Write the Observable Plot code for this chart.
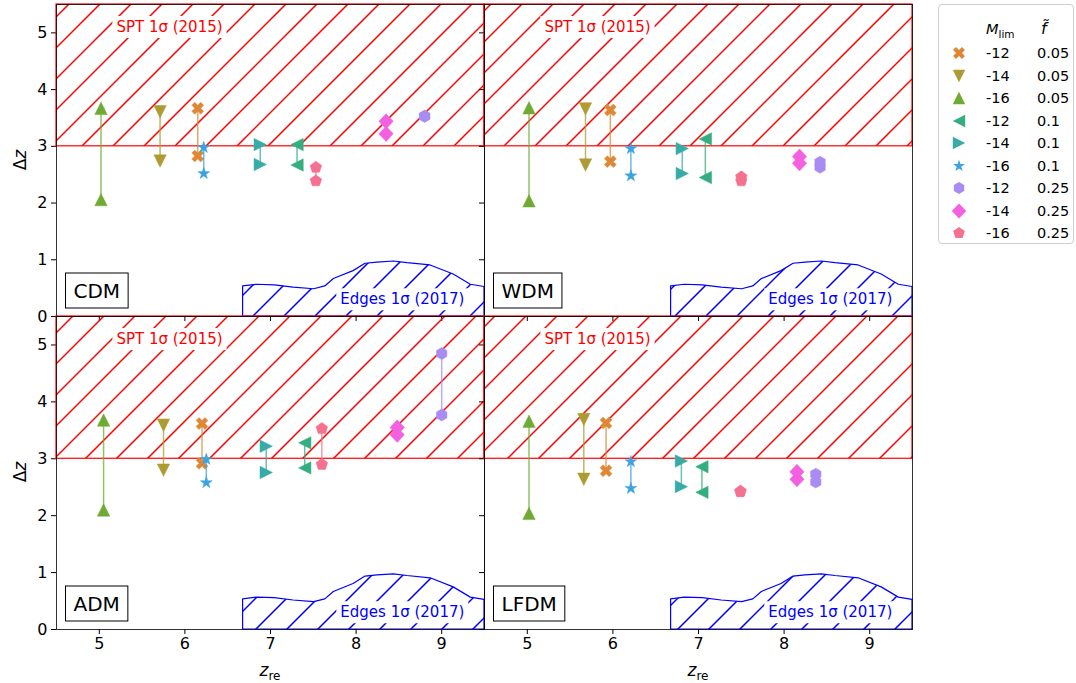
<!DOCTYPE html>
<html><head><meta charset="utf-8">
<script src="https://cdn.jsdelivr.net/npm/d3@7"></script>
<script src="https://cdn.jsdelivr.net/npm/@observablehq/plot@0.6"></script>
<style>
body{margin:0;background:#fff;font-family:"DejaVu Sans",sans-serif;}
#wrap{position:relative;width:1076px;height:683px;overflow:hidden;background:#fff;}
.lab{position:absolute;font-size:17px;color:#000;white-space:nowrap;line-height:1;}
.leg{position:absolute;left:938px;top:4px;width:134px;height:238px;border:1px solid #cfcfcf;border-radius:4px;background:#fff;font-size:14.5px;}
.leg div{position:absolute;white-space:nowrap;line-height:1;transform:translateY(-50%);}
.leg svg{position:absolute;}
</style></head><body>
<div id="wrap"></div>
<script>
// ---------- data ----------
const xDomain = [4.5, 9.5];
const yDomain = [0, 5.5];
const xTicks = [5, 6, 7, 8, 9];
const yTicks = [0, 1, 2, 3, 4, 5];
const models = ["CDM", "WDM", "ADM", "LFDM"];
const mLim = ["-12", "-14", "-16", "-12", "-14", "-16", "-12", "-14", "-16"];
const fTilde = ["0.05", "0.05", "0.05", "0.1", "0.1", "0.1", "0.25", "0.25", "0.25"];
const colors = ["#de8836", "#ad9c33", "#6fab33", "#34ae80", "#37aca6", "#3aa3e0", "#a88cf2", "#f360e0", "#f5718f"];
const markers = ["X", "v", "^", "<", ">", "*", "h", "D", "p"];

const zreCDM = [6.15, 5.71, 5.02, 7.31, 6.88, 6.22, 8.80, 8.35, 7.53];
const dzHiCDM = [3.67, 3.61, 3.67, 3.03, 3.03, 2.98, 3.53, 3.44, 2.63];
const dzLoCDM = [2.83, 2.74, 2.06, 2.67, 2.68, 2.52, 3.53, 3.22, 2.39];
const zreWDM = [5.97, 5.68, 5.02, 7.08, 6.81, 6.21, 8.42, 8.18, 7.50];
const dzHiWDM = [3.64, 3.66, 3.68, 3.13, 2.96, 2.96, 2.72, 2.82, 2.46];
const dzLoWDM = [2.73, 2.67, 2.04, 2.45, 2.52, 2.48, 2.63, 2.70, 2.39];
const zreADM = [6.20, 5.75, 5.05, 7.40, 6.95, 6.25, 9.00, 8.48, 7.60];
const dzHiADM = [3.62, 3.59, 3.68, 3.28, 3.22, 2.99, 4.85, 3.55, 3.53];
const dzLoADM = [2.92, 2.80, 2.10, 2.84, 2.76, 2.58, 3.77, 3.42, 2.90];
const zreLFDM = [5.92, 5.66, 5.02, 7.04, 6.80, 6.21, 8.37, 8.15, 7.49];
const dzHiLFDM = [3.63, 3.69, 3.66, 2.86, 2.96, 2.95, 2.73, 2.77, 2.43];
const dzLoLFDM = [2.79, 2.64, 2.04, 2.41, 2.51, 2.48, 2.59, 2.64, 2.42];

const sptDz = 3;
const edgesZ = [6.68, 6.84, 7.05, 7.27, 7.51, 7.64, 7.74, 7.97, 8.11, 8.25, 8.44, 8.60, 8.87, 9.14, 9.34, 9.50];
const edgesDz = [0.53, 0.56, 0.55, 0.51, 0.48, 0.53, 0.66, 0.80, 0.93, 0.95, 0.97, 0.94, 0.90, 0.74, 0.56, 0.52];

const annoText = ["SPT 1σ (2015)", "Edges 1σ (2017)"];
const annoZ = [5.82, 8.54];
const annoDz = [5.1, 0.3];
const annoColor = ["red", "blue"];

// ---------- symbols ----------
function poly(pts) {
  return {draw(ctx) {
    ctx.moveTo(pts[0][0], pts[0][1]);
    for (let i = 1; i < pts.length; i++) ctx.lineTo(pts[i][0], pts[i][1]);
    ctx.closePath();
  }};
}
function regular(n, R) {
  const p = [];
  for (let i = 0; i < n; i++) { const a = 2 * Math.PI * i / n; p.push([R * Math.sin(a), -R * Math.cos(a)]); }
  return p;
}
function star(R, r) {
  const p = [];
  for (let i = 0; i < 10; i++) { const a = Math.PI * i / 5, rr = i % 2 ? r : R; p.push([rr * Math.sin(a), -rr * Math.cos(a)]); }
  return p;
}
function xshape(a, t) {
  const base = [[-t,-a],[t,-a],[t,-t],[a,-t],[a,t],[t,t],[t,a],[-t,a],[-t,t],[-a,t],[-a,-t],[-t,-t]];
  const c = Math.SQRT1_2;
  return base.map(([x, y]) => [c * (x - y), c * (x + y)]);
}
const s = 6.2;
const symbolFor = {
  "X": poly(xshape(6.3, 2.1)),
  "v": poly([[0, s], [-s, -s], [s, -s]]),
  "^": poly([[0, -s], [-s, s], [s, s]]),
  "<": poly([[-s, 0], [s, -s], [s, s]]),
  ">": poly([[s, 0], [-s, -s], [-s, s]]),
  "*": poly(star(6.2, 2.4)),
  "h": poly(regular(6, 6.0)),
  "D": poly([[0, -7.6], [7.2, 0], [0, 7.6], [-7.2, 0]]),
  "p": poly(regular(5, 6.1))
};

// ---------- panels ----------
const sets = {
  CDM: [zreCDM, dzHiCDM, dzLoCDM],
  WDM: [zreWDM, dzHiWDM, dzLoWDM],
  ADM: [zreADM, dzHiADM, dzLoADM],
  LFDM: [zreLFDM, dzHiLFDM, dzLoLFDM]
};
const wrap = document.getElementById("wrap");
const NS = "http://www.w3.org/2000/svg";

const edges = edgesZ.map((z, i) => ({z, dz: edgesDz[i]}));
const spt = [{x1: xDomain[0], x2: xDomain[1], y1: sptDz, y2: yDomain[1]}];
const annos = annoText.map((t, i) => ({t, z: annoZ[i], dz: annoDz[i], c: annoColor[i]}));

// region outlines in pixel space, through the plot's own scales
const sptRegion = (sc) => {
  const r = spt[0];
  const x1 = sc.x(r.x1), x2 = sc.x(r.x2), y1 = sc.y(r.y1), y2 = sc.y(r.y2);
  return `M${x1},${y1}L${x2},${y1}L${x2},${y2}L${x1},${y2}Z`;
};
const edgesRegion = (sc) => {
  let d = `M${sc.x(edges[0].z)},${sc.y(0)}`;
  edges.forEach(e => { d += `L${sc.x(e.z)},${sc.y(e.dz)}`; });
  d += `L${sc.x(edges[edges.length - 1].z)},${sc.y(0)}Z`;
  return d;
};

// "/" hatch clipped to a region
function hatch(id, regionFn, color) {
  return (index, scales, values, dims) => {
    const g = document.createElementNS(NS, "g");
    const cp = document.createElementNS(NS, "clipPath");
    cp.setAttribute("id", id);
    const rp = document.createElementNS(NS, "path");
    rp.setAttribute("d", regionFn(scales));
    cp.appendChild(rp);
    g.appendChild(cp);
    const inner = document.createElementNS(NS, "g");
    inner.setAttribute("clip-path", `url(#${id})`);
    const {width, height} = dims;
    for (let x0 = -height - 20; x0 < width + 20; x0 += 31) {
      const ln = document.createElementNS(NS, "line");
      ln.setAttribute("x1", x0); ln.setAttribute("y1", height);
      ln.setAttribute("x2", x0 + height); ln.setAttribute("y2", 0);
      ln.setAttribute("stroke", color);
      ln.setAttribute("stroke-width", "1.5");
      inner.appendChild(ln);
    }
    g.appendChild(inner);
    return g;
  };
}

function boxText(svg, str, px, py, stroke) {
  svg.querySelectorAll("text").forEach(t => {
    if (t.textContent !== str) return;
    const b = t.getBBox();
    const r = document.createElementNS(NS, "rect");
    r.setAttribute("x", b.x - px);
    r.setAttribute("y", b.y - py);
    r.setAttribute("width", b.width + 2 * px);
    r.setAttribute("height", b.height + 2 * py);
    r.setAttribute("fill", "white");
    r.setAttribute("stroke", stroke);
    r.setAttribute("stroke-width", "1");
    const tr = t.getAttribute("transform");
    if (tr) r.setAttribute("transform", tr);
    t.parentNode.insertBefore(r, t);
  });
}

models.forEach((m, k) => {
  const col = k % 2, row = Math.floor(k / 2);
  const isLeft = col === 0, isBottom = row === 1;
  const [zre, hi, lo] = sets[m];
  const seriesMarks = [];
  for (let i = 0; i < zre.length; i++) {
    const seg = [{z: zre[i], hi: hi[i], lo: lo[i]}];
    const pts = [{z: zre[i], dz: hi[i]}, {z: zre[i], dz: lo[i]}];
    seriesMarks.push(Plot.ruleX(seg, {x: "z", y1: "hi", y2: "lo", stroke: colors[i], strokeWidth: 1.5, strokeOpacity: 0.75}));
    seriesMarks.push(Plot.dot(pts, {x: "z", y: "dz", symbol: symbolFor[markers[i]], fill: colors[i], stroke: colors[i], strokeWidth: 0.5}));
  }
  const svg = Plot.plot({
    width: isLeft ? 484 : 428,
    height: isBottom ? 367 : 316,
    marginLeft: isLeft ? 56 : 0,
    marginRight: 0,
    marginTop: isBottom ? 0 : 4,
    marginBottom: isBottom ? 54 : 0,
    style: {background: "transparent", overflow: "visible", fontFamily: "DejaVu Sans", fontSize: "16px", color: "#000"},
    x: {domain: xDomain, ticks: xTicks, tickSize: 5, tickPadding: 3, label: null, tickFormat: isBottom ? d => String(d) : () => ""},
    y: {domain: yDomain, ticks: yTicks, tickSize: 5, tickPadding: 4, label: null, tickFormat: isLeft ? d => String(d) : () => ""},
    marks: [
      hatch(`sptclip${k}`, sptRegion, "#ff0000"),
      Plot.rect(spt, {x1: "x1", x2: "x2", y1: "y1", y2: "y2", fill: "none", stroke: "red", strokeWidth: 1.2}),
      hatch(`edgesclip${k}`, edgesRegion, "#0000ff"),
      Plot.areaY(edges, {x: "z", y: "dz", fill: "none", stroke: "blue", strokeWidth: 1.2}),
      Plot.text(annos, {x: "z", y: "dz", text: "t", fill: "c", fontSize: 15, textAnchor: "middle", lineAnchor: "middle"}),
      ...seriesMarks,
      Plot.frame({stroke: "#000", strokeOpacity: 0.8}),
      Plot.text([m], {text: d => d, frameAnchor: "bottom-left", textAnchor: "start", lineAnchor: "bottom", dx: 17, dy: -19, fontSize: 20, fill: "#000"})
    ]
  });
  svg.style.position = "absolute";
  svg.style.left = (isLeft ? 0 : 484) + "px";
  svg.style.top = (isBottom ? 316 : 0) + "px";
  wrap.appendChild(svg);
  boxText(svg, m, 8, 5.5, "#000");
  annoText.forEach(t => boxText(svg, t, 4, 2, "none"));
});

// ---------- axis labels ----------
function addLabel(html, cx, cy, rot) {
  const d = document.createElement("div");
  d.className = "lab";
  d.innerHTML = html;
  d.style.left = cx + "px";
  d.style.top = cy + "px";
  d.style.transform = "translate(-50%,-50%)" + (rot ? " rotate(-90deg)" : "");
  wrap.appendChild(d);
}
addLabel("Δ<i>z</i>", 20, 160, true);
addLabel("Δ<i>z</i>", 20, 472, true);
addLabel("<i>z</i><sub style='font-size:12px'>re</sub>", 270, 672, false);
addLabel("<i>z</i><sub style='font-size:12px'>re</sub>", 698, 672, false);

// ---------- legend ----------
const leg = document.createElement("div");
leg.className = "leg";
const hM = document.createElement("div");
hM.innerHTML = "<i>M</i><sub style='font-size:10.5px'>lim</sub>";
hM.style.left = "47px"; hM.style.top = "26px";
leg.appendChild(hM);
const hF = document.createElement("div");
hF.innerHTML = "<i>f&#771;</i>";
hF.style.left = "102px"; hF.style.top = "24px";
hF.style.fontSize = "16px";
leg.appendChild(hF);
mLim.forEach((v, i) => {
  const cy = 48 + i * 22.5;
  const sv = document.createElementNS(NS, "svg");
  sv.setAttribute("width", 20); sv.setAttribute("height", 20);
  sv.style.left = "10px"; sv.style.top = (cy - 10) + "px";
  const p = document.createElementNS(NS, "path");
  p.setAttribute("d", d3.symbol(symbolFor[markers[i]])());
  p.setAttribute("transform", "translate(10,10)");
  p.setAttribute("fill", colors[i]);
  sv.appendChild(p);
  leg.appendChild(sv);
  const a = document.createElement("div");
  a.textContent = v; a.style.left = "47px"; a.style.top = cy + "px";
  leg.appendChild(a);
  const b = document.createElement("div");
  b.textContent = fTilde[i]; b.style.left = "98px"; b.style.top = cy + "px";
  leg.appendChild(b);
});
wrap.appendChild(leg);
</script>
</body></html>
